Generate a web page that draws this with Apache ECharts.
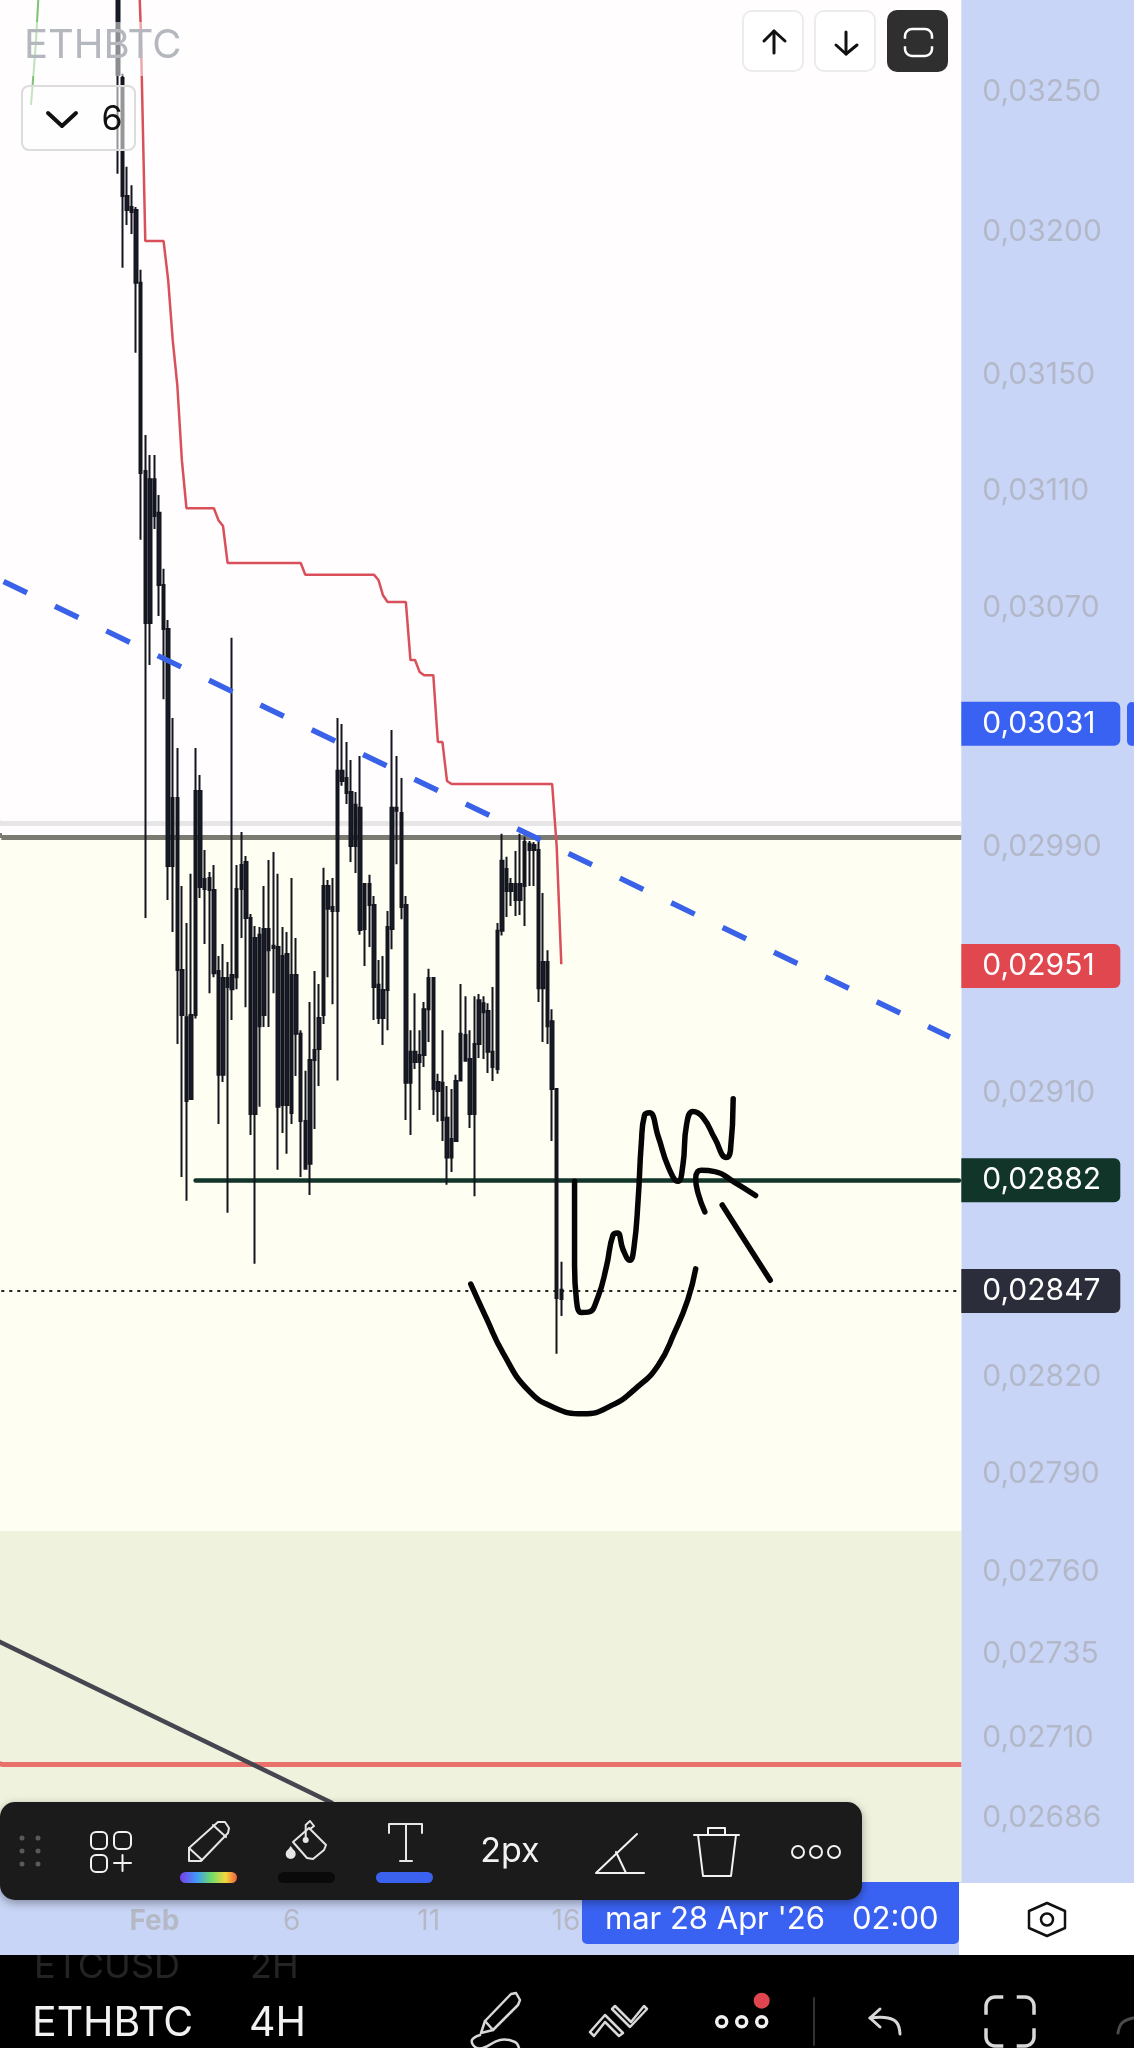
<!DOCTYPE html>
<html>
<head>
<meta charset="utf-8">
<style>
  html, body { margin: 0; padding: 0; background: #fff; }
  #chart { width: 1134px; height: 2048px; }
</style>
<script src="https://cdn.jsdelivr.net/npm/echarts@6/dist/echarts.min.js"></script>
</head>
<body>
<div id="chart"></div>
<script>
// all prices in 1e-5 BTC, so 2951 reads as 0,02951
const priceTicks = [3250, 3200, 3150, 3110, 3070, 2990, 2910, 2820, 2790, 2760, 2735, 2710, 2686]
const dayLabels = { '02-01 00:00': 'Feb', '02-06 00:00': '6', '02-11 00:00': '11', '02-16 00:00': '16' }

const wickHigh = [3300, 3255.5, 3222.2, 3215.7, 3207.9, 3185.8, 3128.2, 3121.3, 3121.3, 3107.5, 3082.3, 3064.9, 3031.9, 3021.9, 2976.2, 2964.1, 2980.2, 3021.9, 3012.9, 2988.1,
  2980.8, 2983.1, 2953.3, 2957.2, 2951.3, 3058.9, 2983.1, 2994.0, 2986.1, 2967.0, 2963.1, 2962.8, 2976.2, 2984.8, 2987.4, 2980.2, 2962.8, 2961.1, 2978.8, 2959.2,
  2929.2, 2916.1, 2938.3, 2948.4, 2944.2, 2982.2, 2978.2, 2978.8, 3031.9, 3029.9, 3023.9, 3017.9, 3007.3, 3019.2, 2976.9, 2979.9, 2972.9, 2952.0, 2953.3, 2968.0,
  3027.9, 3019.2, 3011.9, 2972.9, 2929.2, 2941.2, 2929.2, 2938.3, 2949.1, 2946.1, 2915.1, 2929.2, 2911.2, 2910.2, 2914.8, 2944.2, 2940.2, 2929.2, 2940.2, 2940.9,
  2940.2, 2937.9, 2943.2, 2964.1, 2993.4, 2985.8, 2978.8, 2987.7, 2993.4, 2992.4, 2991.0, 2990.7, 2992.4, 2973.9, 2955.2, 2936.0, 2910.2, 2855.2]
const bodyTop = [3295, 3254.0, 3211.8, 3207.9, 3206.9, 3181.2, 3115.8, 3112.9, 3112.9, 3101.4, 3076.8, 3061.9, 3005.3, 3005.3, 2948.7, 2933.4, 2934.1, 3007.6, 3007.6, 2978.5,
  2978.8, 2974.9, 2948.4, 2946.1, 2946.1, 2947.1, 2975.2, 2983.1, 2984.1, 2965.7, 2959.2, 2960.2, 2962.1, 2962.1, 2956.6, 2956.2, 2953.3, 2953.9, 2947.1, 2947.1,
  2928.0, 2900.0, 2919.6, 2922.8, 2933.1, 2976.2, 2976.2, 2969.3, 3014.3, 3014.3, 3011.9, 3007.3, 3003.0, 3002.0, 2976.9, 2976.9, 2970.0, 2943.9, 2942.2, 2962.8,
  3002.0, 3002.0, 3000.3, 2970.0, 2922.2, 2922.2, 2921.2, 2936.0, 2946.1, 2946.1, 2912.5, 2912.2, 2901.0, 2894.2, 2912.8, 2928.0, 2927.6, 2919.9, 2924.7, 2938.9,
  2937.9, 2935.4, 2922.2, 2961.5, 2984.5, 2981.8, 2976.9, 2976.9, 2976.9, 2990.7, 2990.1, 2989.7, 2988.1, 2951.3, 2951.3, 2932.1, 2910.2, 2846.4]
const bodyBottom = [3255.1, 3211.8, 3206.9, 3206.2, 3181.2, 3115.1, 3063.9, 3063.9, 3100.3, 3076.8, 3061.9, 2982.8, 2982.8, 2948.7, 2934.1, 2906.4, 2907.0, 2934.1, 2975.9, 2975.2,
  2974.9, 2947.7, 2914.8, 2914.8, 2943.2, 2942.5, 2946.4, 2975.2, 2965.7, 2902.2, 2902.2, 2930.5, 2934.1, 2955.2, 2955.9, 2904.5, 2905.1, 2905.1, 2902.5, 2928.0,
  2900.0, 2884.7, 2886.3, 2919.6, 2923.1, 2934.1, 2968.7, 2968.0, 2968.0, 3010.9, 3006.9, 2989.4, 2989.4, 2961.8, 2962.1, 2970.0, 2943.2, 2933.1, 2933.1, 2942.2,
  2962.1, 3001.0, 2969.3, 2912.2, 2912.2, 2918.9, 2918.9, 2921.2, 2936.0, 2910.2, 2909.6, 2900.3, 2888.3, 2888.3, 2893.6, 2913.0, 2919.3, 2902.2, 2902.2, 2924.7,
  2935.0, 2922.2, 2917.3, 2916.7, 2961.5, 2974.6, 2974.6, 2971.6, 2971.6, 2976.2, 2988.1, 2988.1, 2942.8, 2942.8, 2930.5, 2910.2, 2843.8, 2843.5]
const wickLow = [3219.7, 3186.5, 3201.6, 3198.4, 3156.7, 3092.2, 2965.7, 3049.7, 3095.9, 3066.3, 3038.2, 2971.6, 2961.1, 2924.7, 2882.1, 2874.5, 2906.7, 2933.0, 2972.3, 2957.2,
  2941.2, 2946.4, 2899.0, 2912.5, 2870.7, 2932.5, 2942.5, 2959.2, 2936.6, 2895.5, 2854.6, 2904.5, 2930.2, 2930.2, 2941.2, 2884.4, 2896.1, 2889.5, 2899.0, 2914.4,
  2882.1, 2884.4, 2876.4, 2897.4, 2911.2, 2931.2, 2946.4, 2937.6, 2913.0, 3009.3, 3003.3, 2984.1, 2980.5, 2960.2, 2950.0, 2956.2, 2932.5, 2931.2, 2924.4, 2929.2,
  2955.5, 2983.4, 2965.3, 2900.3, 2895.5, 2916.7, 2903.5, 2917.3, 2925.4, 2901.9, 2899.7, 2893.6, 2879.6, 2883.7, 2893.6, 2912.8, 2919.3, 2897.7, 2876.0, 2920.2,
  2919.9, 2915.4, 2912.8, 2915.1, 2960.0, 2966.0, 2969.6, 2966.4, 2966.7, 2963.1, 2976.2, 2976.2, 2938.3, 2925.4, 2924.7, 2893.6, 2826.4, 2838.2]

// [candle slot, price]
const redLine = [[29, 3318.6], [30, 3272.3], [31, 3195.9], [35, 3195.9], [36, 3182.2], [37, 3161.1], [38, 3145.5], [39, 3119.5], [40, 3103.0], [46, 3103.0], [47, 3098.9], [48, 3096.9], [49, 3084.3],
  [65, 3084.3], [66, 3080.3], [81, 3080.3], [82, 3078.5], [83, 3073.3], [84, 3071.0], [88, 3071.0], [89, 3051.4], [90, 3051.4], [91, 3047.4], [92, 3046.3], [94, 3046.3], [95, 3023.9], [96, 3023.9], [97, 3010.9], [98, 3009.9],
  [120, 3009.9], [121, 2989.0], [122, 2950.6]]
const greenLine = [[8, 3294], [7, 3265.1], [6, 3244.3]]
const blueTrend = [[0, 3078], [207, 2927]]
const darkTrend = [[-1, 2738], [72, 2689.5]]

// pen strokes drawn over the chart, [fractional candle slot, price]
const inkSmile = [[102.2, 2848.2], [105.6, 2837.5], [109.3, 2826.5], [114.7, 2815.1], [120.5, 2809.6], [126.8, 2807.7], [133, 2810.3], [138.8, 2816.2], [143.2, 2822.8], [146.8, 2833.1], [149.7, 2843.4], [151.4, 2853]]
const inkWave = [[124.9, 2880.7], [124.9, 2868.8], [124.9, 2853.9], [125.3, 2843.4], [126.4, 2839.3], [127.9, 2839.4], [130, 2844.1], [131.9, 2853.9], [133.3, 2863.6], [134.3, 2864.3], [135.5, 2859.1], [137, 2855.7],
  [137.9, 2859.8], [138.8, 2874.7], [139.5, 2892.8], [140.2, 2901.8], [141.3, 2902.6], [143.2, 2895], [145.4, 2885.3], [147.5, 2880.7], [148.6, 2885.9], [149.4, 2898.8], [150.8, 2903], [153, 2901.1],
  [155.6, 2894.3], [158.1, 2888.3], [159, 2890.5], [159.6, 2907.1]]
const inkHook = [[153.4, 2871], [151.9, 2877], [151.4, 2881.5], [152.6, 2884.2], [155.6, 2883.8], [159.9, 2880.4], [164.5, 2876.2]]
const inkTail = [[157.2, 2873.2], [161.4, 2863.6], [167.7, 2849.4]]

const fmtPrice = v => (v / 1e5).toFixed(5).replace('.', ',')
// my readings above came out about 1 unit low against the tagged prices
const fit = v => v * 1.00033

// 4H candles, first slot is 26 Jan 12:00
const slotCount = 210
const firstSlot = 25
const categories = []
for (let i = 0; i < slotCount; i++) {
  const d = new Date(Date.UTC(2026, 0, 26, 12 + i * 4))
  categories.push(d.toISOString().slice(5, 16).replace('T', ' '))
}

const candles = wickHigh.map((h, i) => [firstSlot + i, fit(bodyTop[i]), fit(bodyBottom[i]), fit(wickLow[i]), fit(h)])

function slotted(points) {
  return points.map(p => [categories[p[0]], fit(p[1])])
}

function fractional(points) {
  return points.map(p => [p[0], fit(p[1])])
}

function inkSeries(points) {
  return {
    type: 'line', xAxisIndex: 1, data: fractional(points), smooth: 0.5, showSymbol: false, z: 6,
    lineStyle: { color: '#050505', width: 5.5, cap: 'round', join: 'round' },
  }
}

function badge(price, color) {
  return {
    yAxis: price,
    lineStyle: { color: 'transparent', width: 0 },
    label: {
      show: true, position: 'end', distance: 0, formatter: fmtPrice(price), color: '#fff',
      fontFamily: 'Inter', fontSize: 30, backgroundColor: color, width: 138, height: 44, lineHeight: 46,
      padding: [0, 0, 0, 21], borderRadius: [0, 6, 6, 0],
    },
  }
}

// overlay helpers, the app chrome around the chart
const stroke = (color, lineWidth) => ({ fill: null, stroke: color, lineWidth, lineCap: 'round', lineJoin: 'round' })
const box = (x, y, w, h, r, fill, z, extra) => ({ type: 'rect', z: z || 100, silent: true, shape: { x, y, width: w, height: h, r }, style: Object.assign({ fill }, extra) })
const pline = (pts, color, w, z, smooth) => ({ type: 'polyline', z: z || 101, silent: true, shape: { points: pts, smooth: smooth || 0 }, style: stroke(color, w) })
const ring = (cx, cy, r, color, w, z) => ({ type: 'circle', z: z || 101, silent: true, shape: { cx, cy, r }, style: stroke(color, w) })
const dot = (cx, cy, r, fill, z) => ({ type: 'circle', z: z || 101, silent: true, shape: { cx, cy, r }, style: { fill } })
const label = (text, x, y, size, fill, align, z, weight) => ({
  type: 'text', z: z || 101, silent: true, x, y,
  style: { text, fill, font: (weight || 400) + ' ' + size + 'px Inter', align: align || 'center', verticalAlign: 'middle' },
})
// rounded square with the middle of its sides hidden by the colour behind it
const frame = (x, y, w, h, r, color, lw, bg, z, allSides) => {
  const parts = [
    box(x, y, w, h, r, 'transparent', z, { stroke: color, lineWidth: lw }),
    box(x - lw, y + h * 0.36, w + 2 * lw, h * 0.28, 0, bg, z + 1),
  ]
  if (allSides) parts.push(box(x + w * 0.36, y - lw, w * 0.28, h + 2 * lw, 0, bg, z + 1))
  return parts
}

const overlay = [
  // grid starts a pixel in, keep the page edge in the band colours
  box(0, 0, 2, 838, 0, '#fffdfd', 2),
  box(0, 838, 2, 693, 0, '#fffef2', 2),
  box(0, 1531, 2, 351, 0, '#eff2dd', 2),
  box(0, 820.5, 2, 5, 0, '#e6e6e6', 2),
  box(0, 833, 2, 5, 0, '#7c7b72', 2),
  box(0, 1761.5, 2, 5, 0, '#e8716b', 2),

  // strip under the x axis, black app bar below it
  box(0, 1955, 1134, 93, 0, '#000', 1),
  label('ETCUSD', 34, 1967, 36, '#242424', 'left', 2),
  label('2H', 250, 1967, 36, '#242424', 'left', 2),
  box(0, 1883, 1134, 72, 0, '#c9d5f6', 3),
  box(959, 1883, 175, 72, 0, '#fff', 4),

  // title and pane selector
  box(24, 22, 160, 54, 0, 'rgba(255,255,255,0.5)', 20),
  label('ETHBTC', 24, 46, 40, '#b5b7bf', 'left', 21),
  box(22, 86, 113, 64, 7, 'rgba(255,255,255,0.55)', 20, { stroke: '#dcdcdc', lineWidth: 2 }),
  pline([[48, 113], [62, 126], [76, 113]], '#111', 4, 21),
  label('6', 112, 120, 34, '#111', 'center', 21),

  // top right buttons
  box(743, 11, 60, 60, 9, '#fff', 20, { stroke: '#ececec', lineWidth: 2 }),
  pline([[774, 53], [774, 31]], '#111', 3),
  pline([[764, 41], [774, 31], [785, 41]], '#111', 3),
  box(815, 11, 60, 60, 9, '#fff', 20, { stroke: '#ececec', lineWidth: 2 }),
  pline([[846, 32], [846, 54]], '#111', 3),
  pline([[836, 45], [846, 54], [857, 45]], '#111', 3),
  box(887, 10, 61, 62, 10, '#2f2f2f', 20),
  ...frame(905, 29, 27, 27, 7, '#fff', 2.5, '#2f2f2f', 21),

  // drawing toolbar
  box(0, 1802, 862, 98, 15, '#1b1b1b', 100, { shadowBlur: 10, shadowColor: 'rgba(0,0,0,0.35)', shadowOffsetY: 3 }),
  dot(22, 1838, 2.5, '#5a5a5a'), dot(38, 1838, 2.5, '#5a5a5a'),
  dot(22, 1851, 2.5, '#5a5a5a'), dot(38, 1851, 2.5, '#5a5a5a'),
  dot(22, 1864, 2.5, '#5a5a5a'), dot(38, 1864, 2.5, '#5a5a5a'),
  box(91, 1832, 16, 17, 5, 'transparent', 101, { stroke: '#f2f2f2', lineWidth: 2 }),
  box(114, 1832, 17, 17, 5, 'transparent', 101, { stroke: '#f2f2f2', lineWidth: 2 }),
  box(91, 1855, 16, 17, 5, 'transparent', 101, { stroke: '#f2f2f2', lineWidth: 2 }),
  pline([[114, 1863], [131, 1863]], '#f2f2f2', 2),
  pline([[122.5, 1855], [122.5, 1871]], '#f2f2f2', 2),
  // pencil
  pline([[189, 1861], [189, 1848], [218, 1822], [225, 1822], [229, 1828], [228, 1833], [201, 1861], [189, 1861]], '#e6e6e6', 2),
  pline([[189, 1848], [202, 1860]], '#e6e6e6', 2),
  pline([[213, 1825], [226, 1837]], '#e6e6e6', 2),
  box(180, 1872, 57, 11, 5.5, {
    type: 'linear', x: 0, y: 0, x2: 1, y2: 0,
    colorStops: [{ offset: 0, color: '#7a3cf0' }, { offset: 0.3, color: '#3f9bf5' }, { offset: 0.55, color: '#6fdc6a' }, { offset: 0.8, color: '#f5d63d' }, { offset: 1, color: '#f0603c' }],
  }, 101),
  // paint bucket
  pline([[293, 1842], [309, 1828], [326, 1845], [324, 1850], [313, 1859], [307, 1858], [293, 1842]], '#e6e6e6', 2),
  pline([[305.7, 1838], [305.7, 1825], [310, 1821], [314, 1826], [310, 1829]], '#e6e6e6', 2),
  dot(305.7, 1840, 3, '#e6e6e6'),
  dot(290.7, 1854, 5, '#e6e6e6'),
  { type: 'polygon', z: 101, silent: true, shape: { points: [[290.7, 1846], [286.5, 1852], [295, 1852]] }, style: { fill: '#e6e6e6' } },
  box(278, 1872, 57, 11, 5.5, '#0a0a0a', 101),
  // text tool
  pline([[389, 1833], [389, 1824], [422, 1824], [422, 1833]], '#e6e6e6', 2),
  pline([[406, 1824], [406, 1861]], '#e6e6e6', 2),
  pline([[400, 1861], [412, 1861]], '#e6e6e6', 2),
  box(376, 1872, 57, 11, 5.5, '#3a62ee', 101),
  label('2px', 510, 1852, 34, '#f2f2f2'),
  pline([[637, 1834], [596, 1873], [644, 1873]], '#f2f2f2', 2),
  pline([[616, 1852], [626, 1873]], '#f2f2f2', 2),
  pline([[694, 1835], [739, 1835]], '#f2f2f2', 2),
  pline([[698, 1835], [703, 1876], [731, 1876], [736, 1835]], '#f2f2f2', 2),
  pline([[708, 1835], [708, 1828], [725, 1828], [725, 1835]], '#f2f2f2', 2),
  ring(798, 1852, 6, '#f2f2f2', 2), ring(816, 1852, 6, '#f2f2f2', 2), ring(834, 1852, 6, '#f2f2f2', 2),

  // crosshair date on the time axis, settings button
  box(582, 1882, 377, 62, [0, 0, 5, 5], '#3a62f2', 90),
  label("mar 28 Apr '26", 605, 1920, 31, '#fff', 'left', 91),
  label('02:00', 852, 1920, 31, '#fff', 'left', 91),
  pline([[1047, 1903], [1065, 1911], [1065, 1928], [1047, 1936], [1029, 1928], [1029, 1911], [1047, 1903]], '#111', 2.5, 10),
  ring(1047, 1919.5, 6, '#111', 2.5, 10),

  // sliver of the next price tag at the right edge
  box(1127, 702, 10, 44, 5, '#3a62f2', 10),

  // app bar
  label('ETHBTC', 32, 2024, 41, '#f2f2f2', 'left', 10),
  label('4H', 249, 2024, 41, '#f2f2f2', 'left', 10),
  pline([[481, 2033], [485, 2021], [511, 1994], [516, 1993], [520, 2000], [518, 2005], [493, 2030], [481, 2033]], '#d8d8d8', 2.5, 10),
  pline([[485, 2021], [493, 2030]], '#d8d8d8', 2.5, 10),
  pline([[480, 2035], [472, 2040], [475, 2047], [483, 2048], [500, 2040], [515, 2042], [519, 2048]], '#d8d8d8', 2.5, 10, 0.4),
  pline([[590, 2032], [605, 2015], [623, 2033], [619, 2036], [605, 2022], [594, 2036], [590, 2032]], '#d8d8d8', 2.5, 10),
  pline([[615, 2006], [631, 2022], [644, 2006], [647, 2009], [630, 2027], [612, 2009], [615, 2006]], '#d8d8d8', 2.5, 10),
  ring(721.7, 2021.7, 5, '#f2f2f2', 3.5, 10), ring(741.7, 2021.7, 5, '#f2f2f2', 3.5, 10), ring(761.7, 2021.7, 5, '#f2f2f2', 3.5, 10),
  dot(761.7, 2000.7, 8, '#e0444e', 10),
  pline([[814, 1998], [814, 2045]], '#333', 2, 10),
  pline([[880, 2009], [870, 2018], [880, 2027]], '#d8d8d8', 3, 10),
  pline([[870, 2018], [888, 2018], [897, 2023], [900, 2034]], '#d8d8d8', 3, 10, 0.4),
  ...frame(986, 1997, 48, 49, 9, '#d8d8d8', 3.5, '#000', 10, true),
  pline([[1118, 2033], [1122, 2023], [1133, 2018]], '#4a4a4a', 3, 10, 0.4),
]

const option = {
  animation: false,
  backgroundColor: '#c9d5f6',
  grid: { left: 1.3, top: 0, width: 960, height: 1882, show: true, backgroundColor: '#fffdfd', borderWidth: 0 },
  xAxis: [
    {
      type: 'category', data: categories, z: 5,
      axisLine: { show: false }, axisTick: { show: false }, splitLine: { show: false },
      axisLabel: {
        margin: 26, color: '#b5b9c6', fontFamily: 'Inter', fontSize: 28, hideOverlap: false,
        interval: (i, v) => v in dayLabels,
        formatter: v => dayLabels[v] === 'Feb' ? '{b|Feb}' : dayLabels[v],
        rich: { b: { color: '#b5b9c6', fontFamily: 'Inter', fontSize: 28, fontWeight: 700 } },
      },
    },
    { type: 'value', min: -0.5, max: slotCount - 0.5, show: false },
  ],
  yAxis: {
    type: 'log', position: 'right', min: 2667.1, max: 3283.2,
    axisLine: { show: false }, axisTick: { show: false }, splitLine: { show: false },
    axisLabel: { customValues: priceTicks, margin: 21, color: '#b3b8c9', fontFamily: 'Inter', fontSize: 30, formatter: fmtPrice },
  },
  graphic: { elements: overlay },
  series: [
    {
      type: 'candlestick', barWidth: 3, data: candles, encode: { x: 0, y: [1, 2, 3, 4] }, z: 3,
      itemStyle: { color: '#1d2030', color0: '#1d2030', borderColor: '#14161f', borderColor0: '#14161f', borderColorDoji: '#14161f', borderWidth: 2 },
      markArea: {
        silent: true, z: 1,
        data: [
          [{ yAxis: fit(2992), itemStyle: { color: '#fffef2' } }, { yAxis: fit(2771.6) }],
          [{ yAxis: fit(2771.6), itemStyle: { color: '#eff2dd' } }, { yAxis: 2667.1 }],
        ],
      },
      markLine: {
        silent: true, symbol: 'none', z: 2,
        label: { show: false },
        data: [
          { yAxis: fit(2997), lineStyle: { color: '#e6e6e6', width: 5, type: 'solid' } },
          { yAxis: fit(2992.3), lineStyle: { color: '#7c7b72', width: 5, type: 'solid' } },
          { yAxis: fit(2701), lineStyle: { color: '#e8716b', width: 5, type: 'solid' } },
          { yAxis: 2847, lineStyle: { color: '#222', width: 2, type: [3, 5] } },
          [
            { xAxis: categories[42], yAxis: 2882, lineStyle: { color: '#12352a', width: 4.5, type: 'solid', cap: 'round' } },
            { xAxis: categories[slotCount - 1], yAxis: 2882 },
          ],
          badge(3031, '#3a62f2'),
          badge(2951, '#e0474f'),
          badge(2882, '#12352a'),
          badge(2847, '#2b2d3a'),
        ],
      },
    },
    { type: 'line', data: slotted(greenLine), showSymbol: false, z: 4, lineStyle: { color: '#7cc474', width: 2 } },
    { type: 'line', data: slotted(redLine), showSymbol: false, z: 4, lineStyle: { color: '#d9505a', width: 2.5 } },
    { type: 'line', data: slotted(blueTrend), showSymbol: false, z: 5, lineStyle: { color: '#3a62e8', width: 5.5, type: [26, 31] } },
    { type: 'line', xAxisIndex: 1, data: fractional(darkTrend), showSymbol: false, z: 4, lineStyle: { color: '#45464f', width: 4.5 } },
    inkSeries(inkSmile),
    inkSeries(inkWave),
    inkSeries(inkHook),
    inkSeries(inkTail),
  ],
}

const chart = echarts.init(document.getElementById('chart'))
chart.setOption(option)
</script>
</body>
</html>
